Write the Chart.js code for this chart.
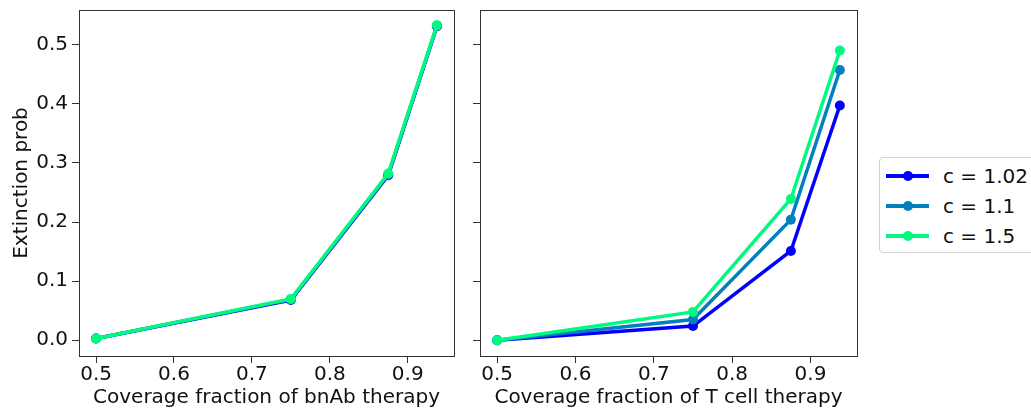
<!DOCTYPE html>
<html lang="en">
<head>
<meta charset="UTF-8">
<title>Extinction probability</title>
<script src="https://cdn.jsdelivr.net/npm/chart.js"></script>
<style>
    body, html {
        margin: 0;
        padding: 0;
        background: #fff;
        width: 1031px;
        height: 415px;
        overflow: hidden;
        font-family: "DejaVu Sans", sans-serif;
    }
    #leftChart { position: absolute; left: 0; top: 0; }
    #rightChart { position: absolute; left: 470px; top: 0; }
    #legend {
        position: absolute;
        left: 879px;
        top: 157px;
        width: 170px;
        height: 96px;
        border: 1px solid #d0d0d0;
        border-radius: 4px;
        box-sizing: border-box;
        padding-top: 3px;
    }
    .item {
        position: relative;
        height: 30px;
        line-height: 30px;
        font-size: 20px;
        color: #111;
    }
    .item .ln {
        position: absolute;
        left: 6px;
        top: 13px;
        width: 43px;
        height: 4px;
    }
    .item .dot {
        position: absolute;
        left: 23px;
        top: 10px;
        width: 10px;
        height: 10px;
        border-radius: 50%;
    }
    .item .txt { position: absolute; left: 63px; top: 0; }
</style>
</head>
<body>
<canvas id="leftChart" width="470" height="415"></canvas>
<canvas id="rightChart" width="400" height="415"></canvas>
<div id="legend"></div>
<script>
    // coverage fractions
    const coverage = [0.5, 0.75, 0.875, 0.9375];
    const xTicks = [0.5, 0.6, 0.7, 0.8, 0.9];
    const yTicks = [0.0, 0.1, 0.2, 0.3, 0.4, 0.5];

    const seriesLabels = ['c = 1.02', 'c = 1.1', 'c = 1.5'];
    const seriesColors = ['rgb(0,0,255)', 'rgb(0,128,191)', 'rgb(0,250,128)'];

    // bnAb therapy (curves almost on top of each other)
    const bnAb102 = [0.003, 0.068, 0.279, 0.531];
    const bnAb11  = [0.003, 0.069, 0.280, 0.532];
    const bnAb15  = [0.003, 0.070, 0.282, 0.533];

    // T cell therapy
    const tcell102 = [0.000, 0.024, 0.151, 0.397];
    const tcell11  = [0.000, 0.035, 0.204, 0.457];
    const tcell15  = [0.000, 0.048, 0.239, 0.490];

    const textColor = '#111';
    const tickFont = { family: 'DejaVu Sans', size: 20 };

    const boxPlugin = {
        id: 'box',
        afterDraw(chart) {
            const a = chart.chartArea;
            const ctx = chart.ctx;
            ctx.save();
            ctx.strokeStyle = '#333';
            ctx.lineWidth = 1;
            ctx.strokeRect(Math.round(a.left) + 0.5, Math.round(a.top) + 0.5,
                Math.round(a.right - a.left), Math.round(a.bottom - a.top));
            ctx.restore();
        }
    };

    function makeDatasets(arrays) {
        return arrays.map((vals, i) => ({
            label: seriesLabels[i],
            data: coverage.map((x, j) => ({ x: x, y: vals[j] })),
            borderColor: seriesColors[i],
            backgroundColor: seriesColors[i],
            borderWidth: 3.5,
            pointRadius: 5,
            pointHoverRadius: 5,
            pointBorderWidth: 0,
            tension: 0,
            order: arrays.length - 1 - i   // last series drawn on top
        }));
    }

    function makeChart(id, arrays, xTitle, showY, yWidth, padRight) {
        return new Chart(document.getElementById(id), {
            type: 'line',
            data: { datasets: makeDatasets(arrays) },
            options: {
                responsive: false,
                animation: false,
                devicePixelRatio: 1,
                layout: { padding: { top: 10, right: padRight, left: 0, bottom: 0 } },
                plugins: { legend: { display: false }, tooltip: { enabled: false } },
                scales: {
                    x: {
                        type: 'linear',
                        min: 0.4781,
                        max: 0.9594,
                        afterBuildTicks: s => { s.ticks = xTicks.map(v => ({ value: v })); },
                        afterFit: s => { s.height = 59; s.paddingLeft = 0; s.paddingRight = 0; },
                        grid: { drawOnChartArea: false, drawTicks: true, tickLength: 7, color: '#333' },
                        border: { display: true, color: '#333' },
                        ticks: { font: tickFont, color: textColor, padding: 0, maxRotation: 0,
                                 callback: v => v.toFixed(1) },
                        title: { display: true, text: xTitle, font: tickFont, color: textColor,
                                 padding: { top: 0, bottom: 5 } }
                    },
                    y: {
                        min: -0.0266,
                        max: 0.5586,
                        afterBuildTicks: s => { s.ticks = yTicks.map(v => ({ value: v })); },
                        afterFit: s => { s.width = yWidth; s.paddingTop = 0; s.paddingBottom = 0; },
                        grid: { drawOnChartArea: false, drawTicks: true, tickLength: 7, color: '#333' },
                        border: { display: true, color: '#333' },
                        ticks: { display: showY, font: tickFont, color: textColor, padding: 4,
                                 callback: v => v.toFixed(1) },
                        title: { display: showY, text: 'Extinction prob', font: tickFont, color: textColor,
                                 padding: { top: 10, bottom: 0 } }
                    }
                }
            },
            plugins: [boxPlugin]
        });
    }

    makeChart('leftChart', [bnAb102, bnAb11, bnAb15], 'Coverage fraction of bnAb therapy', true, 79, 16);
    makeChart('rightChart', [tcell102, tcell11, tcell15], 'Coverage fraction of T cell therapy', false, 10, 13);

    // legend
    const legend = document.getElementById('legend');
    seriesLabels.forEach((lab, i) => {
        const row = document.createElement('div');
        row.className = 'item';
        row.innerHTML = '<span class="ln" style="background:' + seriesColors[i] + '"></span>' +
            '<span class="dot" style="background:' + seriesColors[i] + '"></span>' +
            '<span class="txt">' + lab + '</span>';
        legend.appendChild(row);
    });
</script>
</body>
</html>
